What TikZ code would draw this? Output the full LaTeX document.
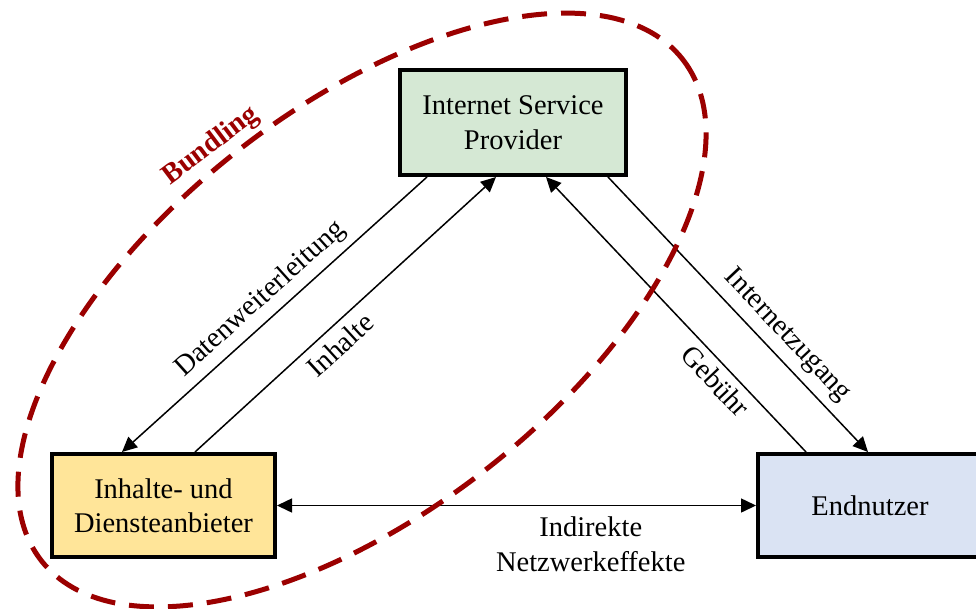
\documentclass[tikz,border=0pt]{standalone}
\usepackage{fontspec}
\setmainfont{Liberation Serif}
\usetikzlibrary{arrows.meta}
\definecolor{bundred}{RGB}{155,0,0}
\definecolor{ispgreen}{RGB}{213,232,212}
\definecolor{cdyellow}{RGB}{255,229,153}
\definecolor{userblue}{RGB}{218,227,243}
\begin{document}
\begin{tikzpicture}[x=1pt,y=-1pt,
  box/.style={draw=black, line width=4pt, align=center, font=\fontsize{28.5}{34}\selectfont, inner sep=0pt},
  conn/.style={line width=1.5pt, -{Triangle[length=15pt,width=14pt]}},
  lbl/.style={font=\fontsize{28.5}{34}\selectfont, sloped, inner sep=0pt}]
\clip (0,0) rectangle (976,608);
\fill[white] (0,0) rectangle (976,608);
% boxes
\node[box, fill=ispgreen, minimum width=226pt, minimum height=105pt] (isp) at (513,122.5) {Internet Service\\[1pt]Provider};
\node[box, fill=cdyellow, minimum width=223pt, minimum height=103pt] (cd) at (163.5,505.5) {Inhalte- und\\Diensteanbieter};
\node[box, fill=userblue, minimum width=224pt, minimum height=103pt] (en) at (870,505.5) {Endnutzer};
% connectors
\draw[conn] ([xshift=-86pt]isp.south) -- ([xshift=-41.5pt]cd.north)
  node[lbl, pos=0.5, above=7pt] (ldw) {Datenweiterleitung};
\draw[conn] ([xshift=31.5pt]cd.north) -- ([xshift=-17pt]isp.south)
  node[lbl, pos=0.44, below=8pt] (linh) {Inhalte};
\draw[conn] ([xshift=-64pt]en.north) -- ([xshift=33pt]isp.south)
  node[lbl, pos=0.30, below=6pt] (lgeb) {Gebühr};
\draw[conn] ([xshift=95pt]isp.south) -- ([xshift=-2pt]en.north)
  node[lbl, pos=0.63, above=8pt] (lint) {Internetzugang};
\draw[line width=1.5pt, {Triangle[length=15pt,width=14pt]}-{Triangle[length=15pt,width=14pt]}] (cd.east) -- (en.west)
  node[pos=0.655, below=10pt, align=center, inner sep=0pt, font=\fontsize{28.5}{35}\selectfont] (lnet) {Indirekte\\Netzwerkeffekte};
% bundling
\draw[bundred, line width=5pt, dash pattern=on 25pt off 14pt, rotate around={38:(362,310)}] (362,310) ellipse [x radius=407, y radius=202];
\node[text=bundred, font=\bfseries\fontsize{28.5}{34}\selectfont, rotate=37, inner sep=0pt] (bund) at (211,146) {Bundling};
\end{tikzpicture}
\end{document}
